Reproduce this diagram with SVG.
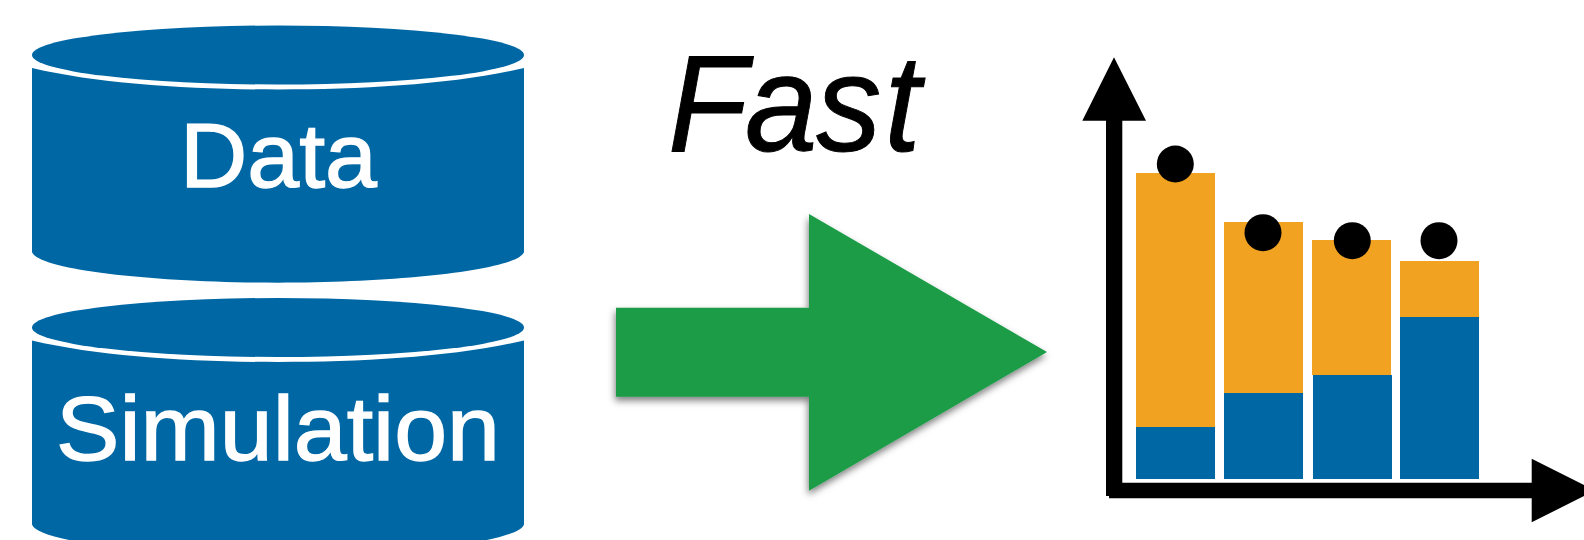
<svg xmlns="http://www.w3.org/2000/svg" width="1584" height="540" viewBox="0 0 1584 540">
<style>
.b{fill:#0067a5}.o{fill:#f1a220}.k{fill:#000}
.l{font-family:"Liberation Sans",Arial,sans-serif;font-size:91px;fill:#fff;stroke:#fff;stroke-width:1.4px}
.f{font-family:"Liberation Sans",Arial,sans-serif;font-size:137px;font-style:italic;fill:#000;stroke:#000;stroke-width:1px}
</style>
<defs>
<filter id="sh" x="-10%" y="-10%" width="120%" height="120%"><feDropShadow dx="-1" dy="4" stdDeviation="3.5" flood-color="#000" flood-opacity="0.5"/></filter>
<g id="cyl">
<path class="b" d="M32,68C100,84 190,89.5 278,89.5S456,84 524,68V252C518,270 400,282.7 278,282.7S38,270 32,252Z"/>
<ellipse class="b" cx="278" cy="55" rx="246" ry="29.5"/>
</g>
</defs>
<rect width="1584" height="540" fill="#fff"/>
<g id="data"><use href="#cyl"/><text class="l" x="180" y="187" textLength="197" lengthAdjust="spacingAndGlyphs">Data</text></g>
<g id="simulation"><use href="#cyl" y="272.5"/><text class="l" x="56" y="459.5" textLength="444" lengthAdjust="spacingAndGlyphs">Simulation</text></g>
<text class="f" id="fast" transform="translate(668 151) scale(.95 1)" x="0 81 156 228" y="0">Fast</text>
<g id="connectors"><polygon fill="#1a9c47" filter="url(#sh)" points="616,307.7 809,307.7 809,214 1047,352 809,490.7 809,396.7 616,396.7"/></g>
<g id="chart">
<rect class="o" x="1136" y="173" width="79" height="254"/><rect class="b" x="1136" y="427" width="79" height="52"/>
<rect class="o" x="1224" y="222" width="79" height="171"/><rect class="b" x="1224" y="393" width="79" height="86"/>
<rect class="o" x="1312" y="240" width="79" height="135"/><rect class="b" x="1313" y="375" width="79" height="104"/>
<rect class="o" x="1400" y="261" width="79" height="56"/><rect class="b" x="1400" y="317" width="79" height="162"/>
<circle class="k" cx="1175.3" cy="164" r="18.5"/><circle class="k" cx="1263" cy="232.7" r="18.5"/><circle class="k" cx="1352.3" cy="240.7" r="18.5"/><circle class="k" cx="1439" cy="240.7" r="18.5"/>
<polygon class="k" points="1114,57.3 1146,120.7 1122.3,120.7 1122.3,482.7 1531.7,482.7 1531.7,458.7 1595,490.5 1531.7,522.3 1531.7,498.3 1109,498.3 1109,496 1106,496 1106,120.7 1082.3,120.7"/>
</g>
</svg>
